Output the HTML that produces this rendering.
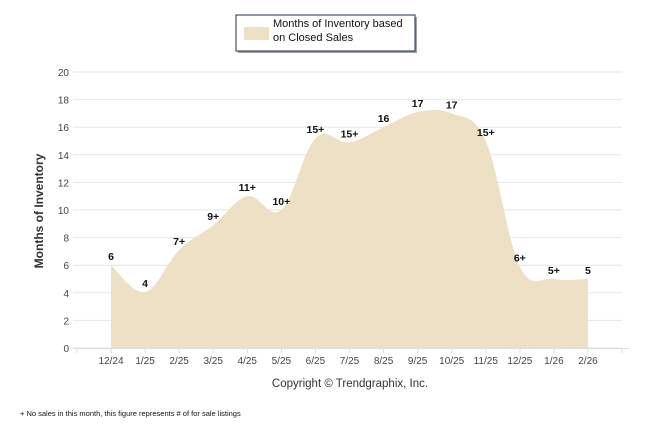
<!DOCTYPE html>
<html><head><meta charset="utf-8"><style>
body{margin:0;background:#fff;width:646px;height:434px;overflow:hidden;font-family:"Liberation Sans",sans-serif}
</style></head><body>
<svg id="c" width="646" height="434" font-family="Liberation Sans, sans-serif">
<g>
<rect x="238" y="17" width="179" height="36" fill="#444" opacity="0.5"/>
<rect x="236" y="15" width="179" height="36" fill="#fff" stroke="#1f2d4d" stroke-width="1"/>
<rect x="244" y="27" width="25" height="13" fill="#ede0c5"/>
<text x="273" y="27" font-size="11" fill="#111">Months of Inventory based</text>
<text x="273" y="41" font-size="11" fill="#111">on Closed Sales</text>
</g>
<text transform="translate(43,211) rotate(-90)" text-anchor="middle" font-size="12" font-weight="bold" fill="#333">Months of Inventory</text>
<g id="grid"></g><g id="area"></g><g id="labels"></g><g id="xaxis"></g>
<text x="350" y="387" text-anchor="middle" font-size="11.5" fill="#333">Copyright © Trendgraphix, Inc.</text>
<text x="20" y="416" font-size="7.5" fill="#111">+  No sales in this month, this figure represents # of for sale listings</text>
</svg>
<script>
const categories=["12/24","1/25","2/25","3/25","4/25","5/25","6/25","7/25","8/25","9/25","10/25","11/25","12/25","1/26","2/26"];
const values=[6,4.05,7.1,8.9,11,10,15.2,14.9,16,17.1,17,15,5.9,5,5];
const pointLabels=["6","4","7+","9+","11+","10+","15+","15+","16","17","17","15+","6+","5+","5"];
const yTicks=[0,2,4,6,8,10,12,14,16,18,20];
const NS="http://www.w3.org/2000/svg";
const x=i=>111+i*34.07, y=v=>348-v*13.8;
function mk(t,a,p){const e=document.createElementNS(NS,t);for(const k in a)e.setAttribute(k,a[k]);p.appendChild(e);return e;}
const grid=document.getElementById('grid');
yTicks.forEach(t=>{
 const l=mk('line',{x1:73,x2:622,y1:y(t),y2:y(t),stroke:'#e6e6e6','stroke-width':1},grid);
 
 
 const tx=mk('text',{x:69,y:y(t)+4,'text-anchor':'end','font-size':10,fill:'#444'},grid);tx.textContent=t;
 
 
});
const pts=values.map((v,i)=>[x(i),y(v)]);
let d=`M${pts[0][0]},${y(0)} L${pts[0][0]},${pts[0][1]}`;
for(let i=0;i<pts.length-1;i++){
 const p0=pts[Math.max(0,i-1)],p1=pts[i],p2=pts[i+1],p3=pts[Math.min(pts.length-1,i+2)];
 const t=0.18;
 d+=` C${p1[0]+(p2[0]-p0[0])*t},${p1[1]+(p2[1]-p0[1])*t} ${p2[0]-(p3[0]-p1[0])*t},${p2[1]-(p3[1]-p1[1])*t} ${p2[0]},${p2[1]}`;
}
d+=` L${pts[pts.length-1][0]},${y(0)} Z`;
const a=mk('path',{d:d,fill:'#ede0c5'},document.getElementById('area'));


const lab=document.getElementById('labels');
values.forEach((v,i)=>{
 const t=mk('text',{x:x(i),y:y(v)-5,'text-anchor':'middle','font-size':10.5,'font-weight':'bold',fill:'#111'},lab);
 t.textContent=pointLabels[i];
 
 
});
const xa=document.getElementById('xaxis');
mk('line',{x1:73,x2:629,y1:348.5,y2:348.5,stroke:'#ddd'},xa);
for(let k=0;k<=16;k++){mk('line',{x1:77+k*34.07,x2:77+k*34.07,y1:348,y2:353,stroke:'#ddd'},xa);}
categories.forEach((c,i)=>{
 const t=mk('text',{x:x(i),y:364,'text-anchor':'middle','font-size':10,fill:'#444'},xa);t.textContent=c;
 
 
});
</script>
</body></html>
